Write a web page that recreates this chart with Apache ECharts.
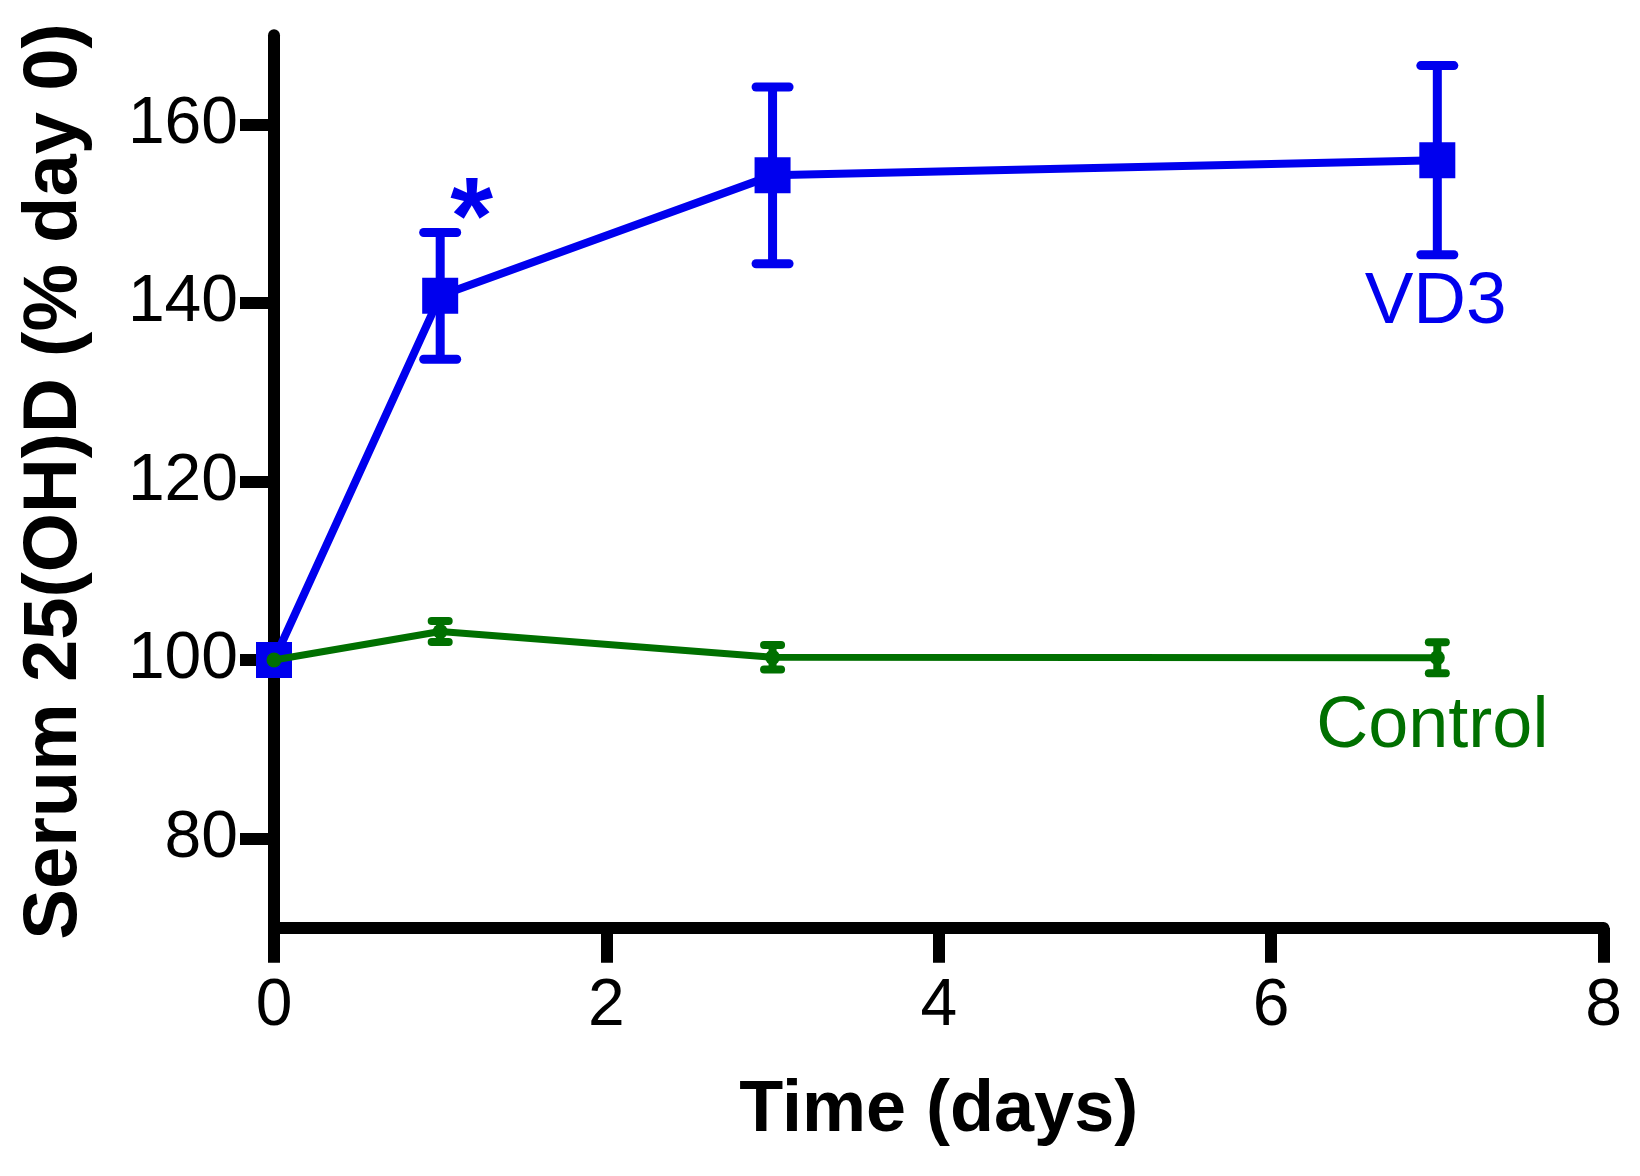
<!DOCTYPE html>
<html>
<head>
<meta charset="utf-8">
<script src="https://cdn.jsdelivr.net/npm/echarts@6/dist/echarts.min.js"></script>
<style>
html,body{margin:0;padding:0;background:#fff;}
#chart{width:1640px;height:1176px;}
</style>
</head>
<body>
<div id="chart"></div>
<script>
// ---- data ----
const days = [0, 1, 3, 7];
const vd3Mean = [100, 140.8, 154.3, 156.0];
const vd3Err = [0, 7.1, 9.9, 10.6];
const ctrlMean = [100, 103.2, 100.3, 100.25];
const ctrlErr = [0, 1.18, 1.37, 1.74];
const xTicks = [0, 2, 4, 6, 8];
const yTicks = [80, 100, 120, 140, 160];
const seriesNames = ['VD3', 'Control'];
const xTitle = 'Time (days)';
const yTitle = 'Serum 25(OH)D (% day 0)';
const sigMark = '*';
// annotation anchors (data units)
const sigAt = [1.19, 149.0];
const vd3LabelAt = [6.99, 140.06];
const ctrlLabelAt = [6.97, 92.44];

const BLUE = '#0000ee';
const GREEN = '#007000';
const FONT = '"Liberation Sans", Arial, Helvetica, sans-serif';

const pts = (m) => days.map((d, i) => [d, m[i]]);
const errPts = (m, e) => days.map((d, i) => [d, m[i], e[i]]).filter(p => p[2] > 0);

function errRender(capW, lw, color) {
  return function (params, api) {
    const x = api.value(0), m = api.value(1), e = api.value(2);
    const pLo = api.coord([x, m - e]);
    const pHi = api.coord([x, m + e]);
    const h = capW / 2;
    const st = { stroke: color, lineWidth: lw, lineCap: 'round' };
    return {
      type: 'group',
      children: [
        { type: 'line', shape: { x1: pLo[0], y1: pLo[1], x2: pHi[0], y2: pHi[1] }, style: { stroke: color, lineWidth: lw } },
        { type: 'line', shape: { x1: pHi[0] - h, y1: pHi[1], x2: pHi[0] + h, y2: pHi[1] }, style: st },
        { type: 'line', shape: { x1: pLo[0] - h, y1: pLo[1], x2: pLo[0] + h, y2: pLo[1] }, style: st }
      ]
    };
  };
}

function textSeries(pos, text, color, size, weight, z) {
  return {
    type: 'scatter',
    data: [pos],
    symbolSize: 0,
    silent: true,
    clip: false,
    z: z,
    itemStyle: { color: color, opacity: 1 },
    label: {
      show: true, position: 'inside', formatter: text, opacity: 1,
      color: color, fontSize: size, fontWeight: weight, fontFamily: FONT,
      textBorderWidth: 0
    },
    emphasis: { disabled: true }
  };
}

const chart = echarts.init(document.getElementById('chart'));
chart.setOption({
  animation: false,
  backgroundColor: '#fff',
  grid: { left: 274, right: 36.5, top: 35.25, bottom: 248.25, containLabel: false, outerBoundsMode: 'none' },
  xAxis: {
    type: 'value', min: 0, max: 8, interval: 2,
    axisLine: { show: true, lineStyle: { color: '#000', width: 12 } },
    axisTick: { show: true, length: 35, lineStyle: { color: '#000', width: 12 } },
    axisLabel: { color: '#000', fontSize: 66, margin: 46, fontFamily: FONT,
      formatter: (v) => xTicks.includes(v) ? String(v) : '' },
    splitLine: { show: false },
    name: xTitle, nameLocation: 'middle', nameGap: 147,
    nameTextStyle: { color: '#000', fontSize: 72, fontWeight: 'bold', fontFamily: FONT }
  },
  yAxis: {
    type: 'value', min: 70, max: 170,
    axisLine: { show: true, lineStyle: { color: '#000', width: 12 } },
    axisTick: { show: true, length: 34, customValues: yTicks, lineStyle: { color: '#000', width: 12 } },
    axisLabel: { color: '#000', fontSize: 66, margin: 36, fontFamily: FONT, customValues: yTicks },
    splitLine: { show: false },
    name: yTitle, nameLocation: 'middle', nameGap: 181,
    nameTextStyle: { color: '#000', fontSize: 76, fontWeight: 'bold', fontFamily: FONT }
  },
  series: [
    {
      type: 'custom', name: seriesNames[0] + ' SEM', data: errPts(vd3Mean, vd3Err),
      encode: { x: 0, y: 1 }, renderItem: errRender(33, 9, BLUE), clip: false, z: 2, silent: true
    },
    {
      type: 'line', name: seriesNames[0], data: pts(vd3Mean),
      symbol: 'rect', symbolSize: 36, clip: false, z: 3,
      itemStyle: { color: BLUE }, lineStyle: { color: BLUE, width: 8 }
    },
    {
      type: 'custom', name: seriesNames[1] + ' SEM', data: errPts(ctrlMean, ctrlErr),
      encode: { x: 0, y: 1 }, renderItem: errRender(17, 8, GREEN), clip: false, z: 4, silent: true
    },
    {
      type: 'line', name: seriesNames[1], data: pts(ctrlMean),
      symbol: 'circle', symbolSize: 15, clip: false, z: 5,
      itemStyle: { color: GREEN }, lineStyle: { color: GREEN, width: 7 }
    },
    textSeries(sigAt, sigMark, BLUE, 110, 'bold', 6),
    textSeries(vd3LabelAt, seriesNames[0], BLUE, 73, 'normal', 6),
    textSeries(ctrlLabelAt, seriesNames[1], GREEN, 72, 'normal', 6)
  ]
});
</script>
</body>
</html>
